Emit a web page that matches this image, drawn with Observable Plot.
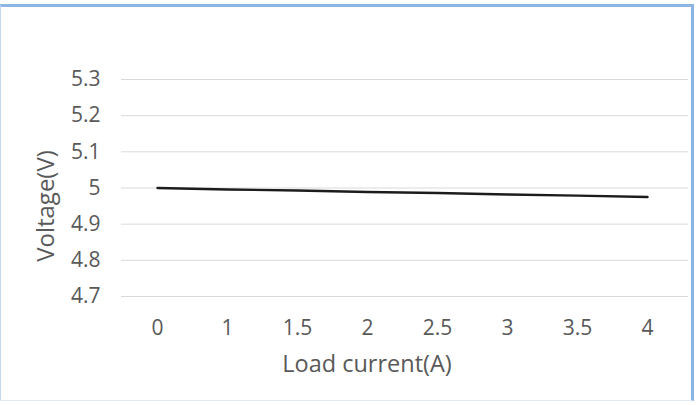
<!DOCTYPE html>
<html>
<head>
<meta charset="utf-8">
<script src="https://cdn.jsdelivr.net/npm/d3@7"></script>
<script src="https://cdn.jsdelivr.net/npm/@observablehq/plot@0.6"></script>
<style>
  html, body { margin: 0; padding: 0; background: #fff; }
  #wrap { position: relative; width: 699px; height: 405px; overflow: hidden; }
  #frame { position: absolute; left: 0; top: 4px; width: 694px; height: 397px;
           border-top: 3px solid #8eb4e3; border-right: 3px solid #8eb4e3;
           border-left: 1px solid #c6d9f0; border-bottom: 1px solid #e3ebf5;
           box-sizing: border-box; pointer-events: none; }
  #chart { position: absolute; left: 0; top: 0; }
</style>
</head>
<body>
<div id="wrap"><div id="chart"></div><div id="frame"></div></div>
<script>
const categories = ["0", "1", "1.5", "2", "2.5", "3", "3.5", "4"];
const voltage = [5.000, 4.996, 4.993, 4.989, 4.986, 4.982, 4.979, 4.975];
const yTicks = [4.7, 4.8, 4.9, 5.0, 5.1, 5.2, 5.3];
const yTickLabels = ["4.7", "4.8", "4.9", "5", "5.1", "5.2", "5.3"];
const xTitle = "Load current(A)";
const yTitle = "Voltage(V)";

const data = categories.map((c, i) => ({current: c, voltage: voltage[i]}));
const textColor = "#595959";

const chart = Plot.plot({
  width: 699,
  height: 405,
  marginTop: 79,
  marginBottom: 109,
  marginLeft: 118,
  marginRight: 14,
  style: {fontFamily: "'Open Sans', sans-serif", fontSize: "21px", color: textColor, background: "transparent"},
  x: {type: "point", domain: categories, padding: 0.5},
  y: {domain: [4.7, 5.3]},
  marks: [
    Plot.ruleY(yTicks, {stroke: "#d9d9d9", strokeWidth: 1, dx: 3}),
    Plot.axisX({tickSize: 0, tickPadding: 24, fontSize: 21, label: null}),
    Plot.axisY({ticks: yTicks, tickFormat: (d) => yTickLabels[yTicks.indexOf(d)], tickSize: 0, tickPadding: 18, fontSize: 21, label: null}),
    Plot.line(data, {x: "current", y: "voltage", stroke: "#1c1c1c", strokeWidth: 2.4}),
    Plot.text([xTitle], {text: (d) => d, frameAnchor: "bottom", textAnchor: "middle", lineAnchor: "middle", dx: -35, dy: 68, fontSize: 23.5, fill: textColor}),
    Plot.text([yTitle], {text: (d) => d, frameAnchor: "left", textAnchor: "middle", lineAnchor: "middle", rotate: -90, dx: -72, dy: 18, fontSize: 24, fill: textColor})
  ]
});
document.getElementById("chart").appendChild(chart);
</script>
</body>
</html>
